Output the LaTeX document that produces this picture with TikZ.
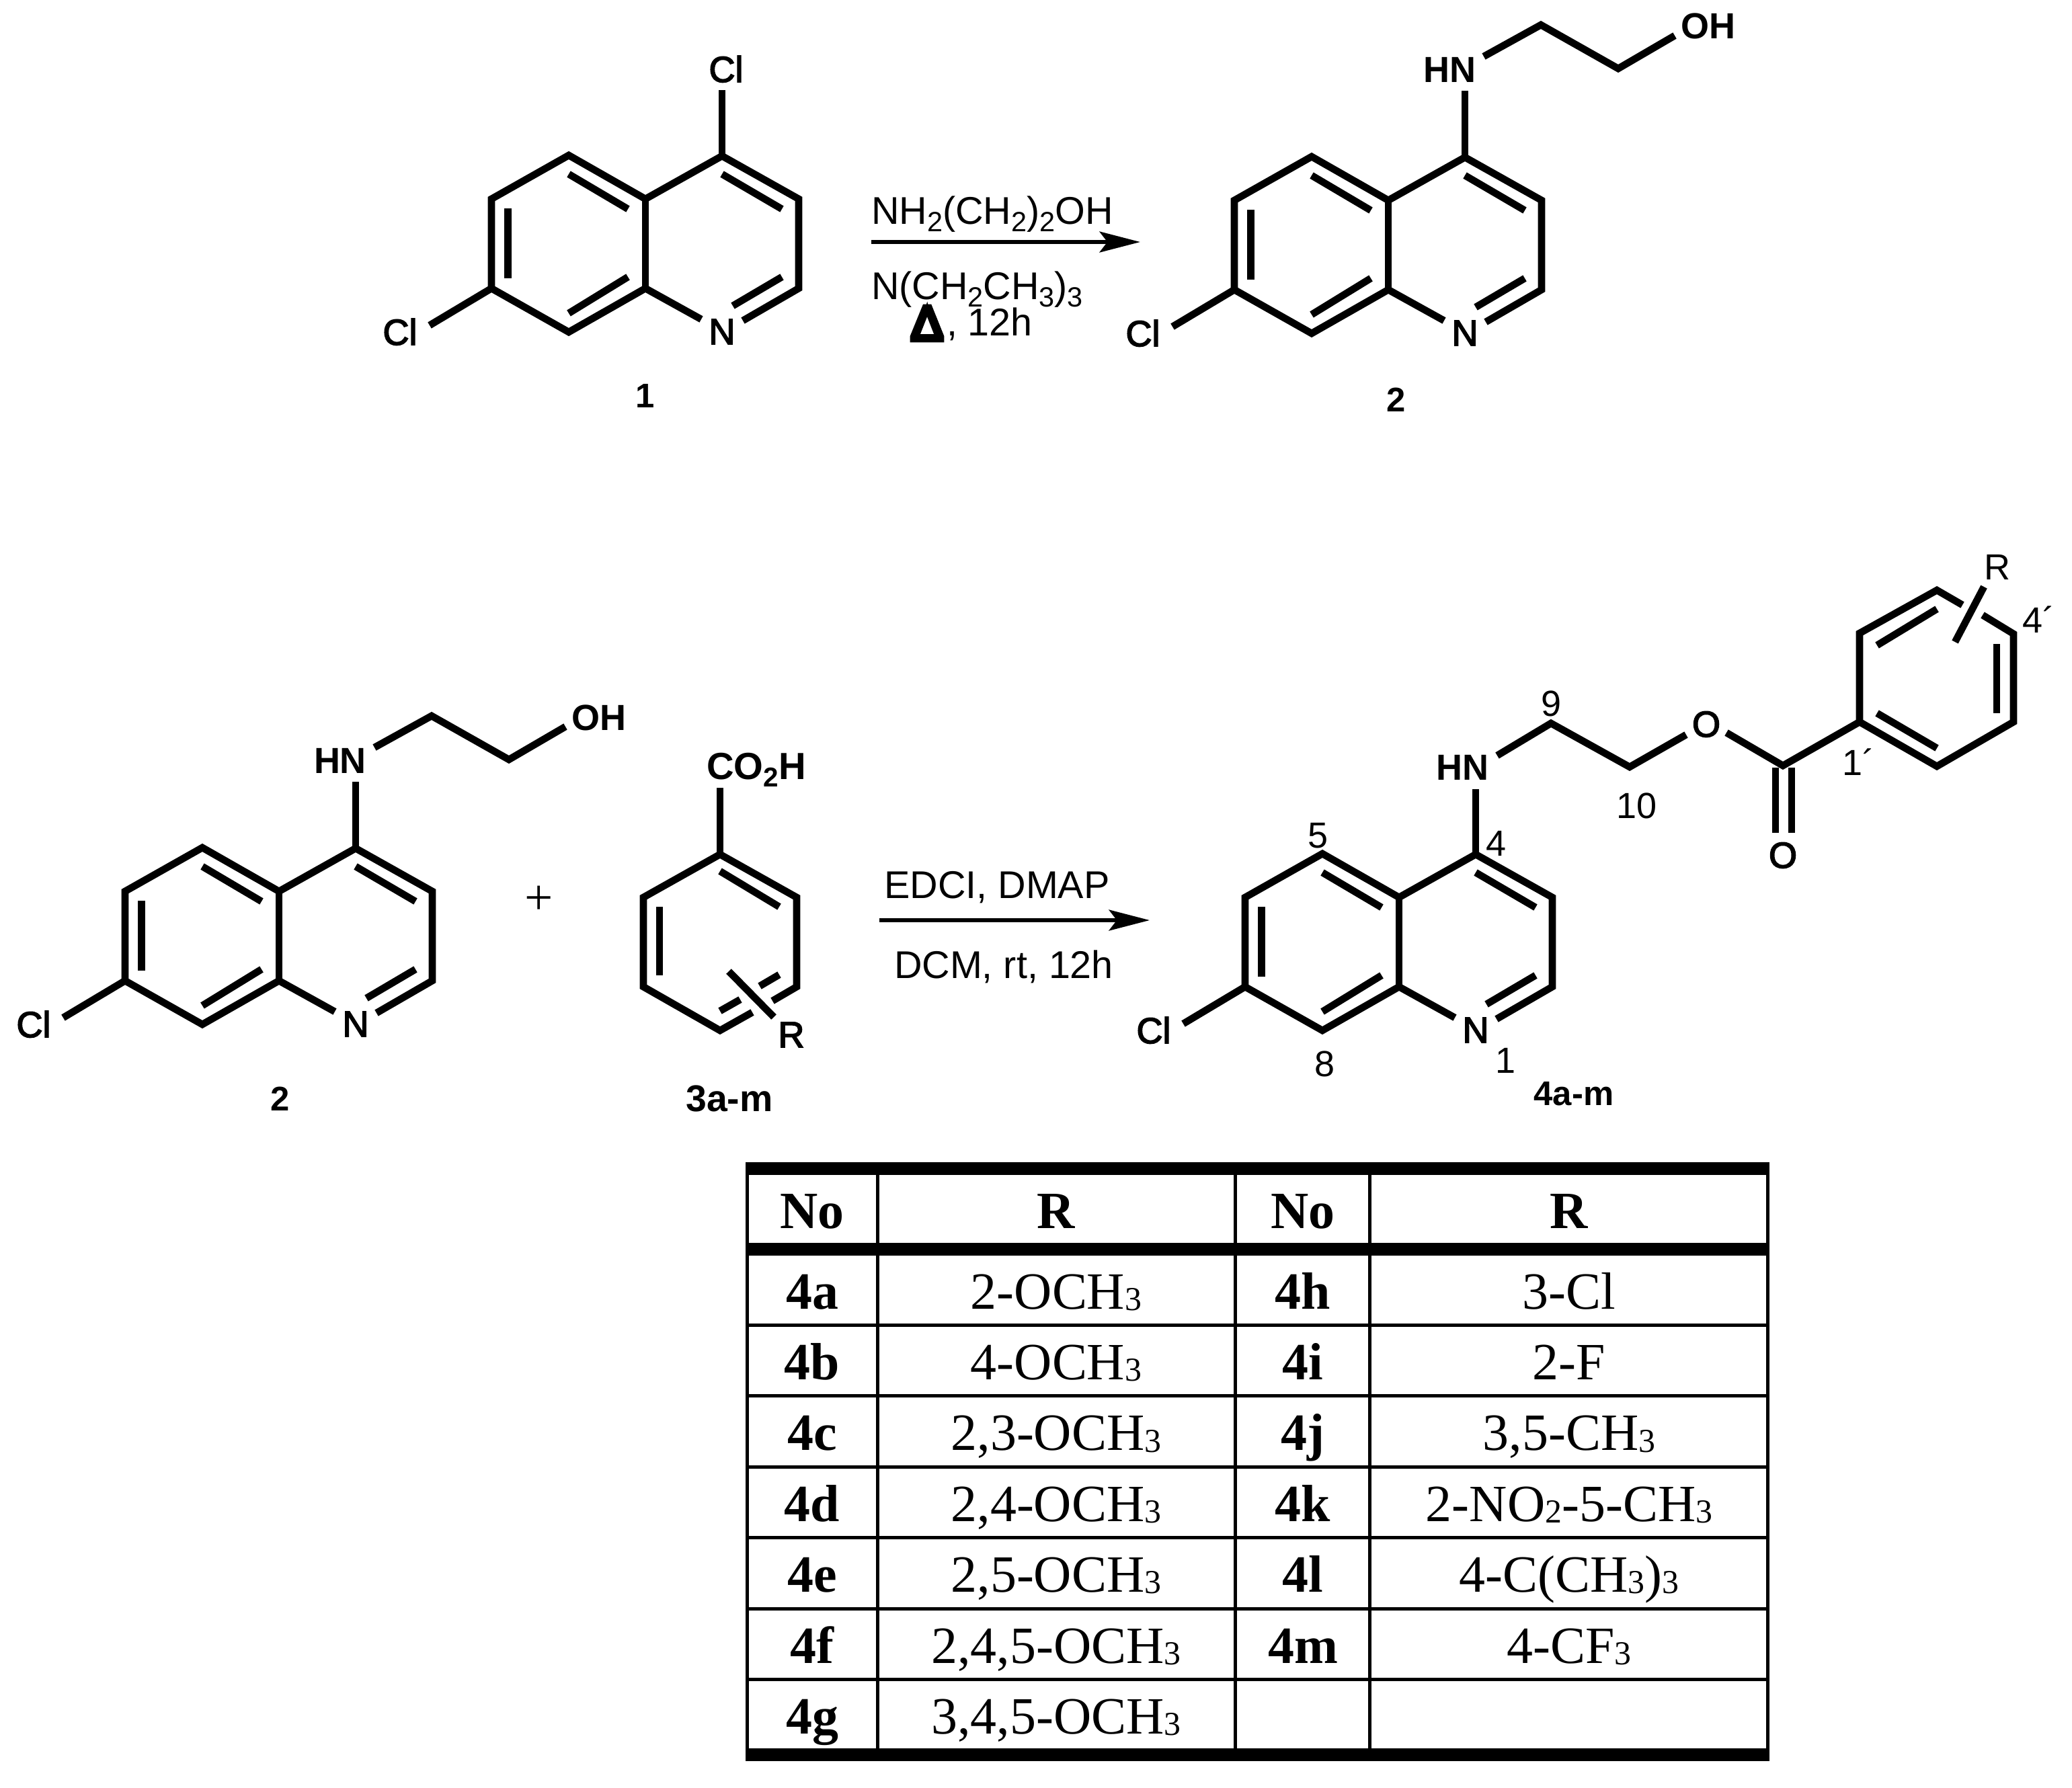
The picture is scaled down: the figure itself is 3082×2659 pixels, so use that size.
\documentclass[tikz,border=0pt]{standalone}
\usepackage{fontspec}
\setmainfont{Liberation Serif}
\newfontfamily\chemreg{Liberation Sans}
\newfontfamily\chemmid{Liberation Sans}[FakeBold=3]
\newfontfamily\chemdelta{Liberation Sans}[FakeBold=9]
\newfontfamily\chembld{Liberation Sans}[BoldFont={Liberation Sans Bold}]
\usetikzlibrary{arrows.meta}
\newcommand\sbs[1]{\raisebox{-0.2em}{\scalebox{0.72}{#1}}}
\newcommand\tsb[1]{\raisebox{-0.03em}{\scalebox{0.64}{#1}}}
\tikzset{
  bond/.style={line width=2.55pt,line cap=butt,line join=miter,miter limit=10,black},
  rxn/.style={line width=1.5pt,-{Stealth[length=14.5pt,width=7.4pt,inset=2.8pt]}},
  txt/.style={inner sep=0pt,outer sep=0pt,anchor=base},
  atomreg/.style={txt,font=\chemreg\fontsize{12.96pt}{15pt}\selectfont},
  atommid/.style={txt,font=\chemmid\fontsize{12.96pt}{15pt}\selectfont},
  atombld/.style={txt,font=\chembld\bfseries\fontsize{12.96pt}{15pt}\selectfont},
  reagent/.style={txt,font=\chemreg\fontsize{13.8pt}{15pt}\selectfont},
  cpd/.style={txt,font=\chembld\bfseries\fontsize{12.2pt}{15pt}\selectfont},
  tblhead/.style={txt,font=\bfseries\fontsize{18.7pt}{22pt}\selectfont},
  tblcell/.style={txt,font=\fontsize{18.7pt}{22pt}\selectfont},
  thickrule/.style={line width=4.56pt,line cap=butt},
  thinrule/.style={line width=1.2pt,line cap=butt},
}
\newcommand\quino[3]{%
\begin{scope}[shift={(#2,#3)}]
  \coordinate (#1c4) at (1074,232);
  \coordinate (#1c3) at (1188,296);
  \coordinate (#1c2) at (1188,429);
  \coordinate (#1c8a) at (960,429);
  \coordinate (#1c4a) at (960,296);
  \coordinate (#1c5) at (846,231);
  \coordinate (#1c6) at (731,296);
  \coordinate (#1c7) at (731,429);
  \coordinate (#1c8) at (846,494);
  \coordinate (#1na) at (1043,475);
  \coordinate (#1nb) at (1105,477);
  \coordinate (#1clb) at (639,484);
  \node[atommid] (#1n) at (1074,512) {N};
  \node[atommid] (#1cl) at (595,513) {Cl};
  \draw[bond] (#1na) -- (#1c8a) -- (#1c8) -- (#1c7) -- (#1c6) -- (#1c5) -- (#1c4a) -- (#1c4) -- (#1c3) -- (#1c2) -- (#1nb);
  \draw[bond] (#1c4a) -- (#1c8a);
  \draw[bond] (#1c7) -- (#1clb);
  \coordinate (#1i1) at (755.5,310); \coordinate (#1i2) at (755.5,414);
  \coordinate (#1i3) at (846,259); \coordinate (#1i4) at (934,311);
  \coordinate (#1i5) at (846,466); \coordinate (#1i6) at (934,412);
  \coordinate (#1i7) at (1074,259); \coordinate (#1i8) at (1163,311);
  \coordinate (#1i9) at (1090,455); \coordinate (#1i10) at (1163,412);
  \draw[bond] (#1i1) -- (#1i2);
  \draw[bond] (#1i3) -- (#1i4);
  \draw[bond] (#1i5) -- (#1i6);
  \draw[bond] (#1i7) -- (#1i8);
  \draw[bond] (#1i9) -- (#1i10);
\end{scope}}
\newcommand\amino[3]{%
\begin{scope}[shift={(#2,#3)}]
  \node[atombld] (#1hn) at (1051,120) {HN};
  \node[atombld] (#1oh) at (1436,56) {OH};
  \coordinate (#1t0) at (1074,133);
  \coordinate (#1t1) at (1102,82);
  \coordinate (#1t2) at (1187,35);
  \coordinate (#1t3) at (1302,100);
  \coordinate (#1t4) at (1386,51);
  \draw[bond] (#1c4) -- (#1t0);
  \draw[bond] (#1t1) -- (#1t2) -- (#1t3) -- (#1t4);
\end{scope}}
\newcommand\trow[6]{%
  \node[tblhead] (no#1) at (1208,#2) {#3};
  \node[tblcell] (ra#1) at (1571,#2) {#4};
  \node[tblhead] (nb#1) at (1938,#2) {#5};
  \node[tblcell] (rb#1) at (2334,#2) {#6};}
\begin{document}
\begin{tikzpicture}[x=0.24pt,y=-0.24pt]
\useasboundingbox (0,0) rectangle (3082,2659);

% --- compound 1
\quino{a}{0}{0}
\node[atommid] (acl4) at (1080,122) {Cl};
\coordinate (acl4b) at (1074,134);
\draw[bond] (ac4) -- (acl4b);
\node[cpd] (lab1) at (960,606) {1};

% --- reaction 1
\coordinate (r1s) at (1296,360);
\coordinate (r1e) at (1696,360);
\draw[rxn] (r1s) -- (r1e);
\node[reagent,anchor=base west] (r1a) at (1296,333) {NH\sbs{2}(CH\sbs{2})\sbs{2}OH};
\node[reagent,anchor=base west] (r1b) at (1296,445) {N(CH\sbs{2}CH\sbs{3})\sbs{3}};
\node[txt,font=\chemdelta\fontsize{17.5pt}{20pt}\selectfont] (r1d) at (1379,506) {Δ};
\node[reagent,anchor=base west] (r1c) at (1408,499) {, 12h};

% --- compound 2
\quino{b}{1105}{2}
\amino{b}{1105}{2}
\node[cpd] (lab2) at (2077,612) {2};

% --- second row: compound 2
\quino{c}{-545}{1030}
\amino{c}{-545}{1030}
\node[cpd] (lab2b) at (417,1652) {2};
\node[txt,font=\fontsize{18pt}{20pt}\selectfont,anchor=center] (plus) at (802,1339) {+};

% --- 3a-m
\coordinate (d1) at (1071,1271);
\coordinate (d2) at (1185,1335);
\coordinate (d3) at (1185,1468);
\coordinate (d4) at (1149,1489);
\coordinate (d5) at (1119,1506);
\coordinate (d6) at (1071,1533);
\coordinate (d7) at (957,1468);
\coordinate (d8) at (957,1335);
\node[atombld,font=\chembld\bfseries\fontsize{13.5pt}{15pt}\selectfont] (dco) at (1125,1159) {CO\sbs{2}H};
\coordinate (dt) at (1071,1172);
\draw[bond] (d1) -- (dt);
\draw[bond] (d4) -- (d3) -- (d2) -- (d1) -- (d8) -- (d7) -- (d6) -- (d5);
\coordinate (di1) at (981,1349); \coordinate (di2) at (981,1451);
\coordinate (di3) at (1071,1296); \coordinate (di4) at (1159,1349);
\coordinate (di5) at (1159,1450); \coordinate (di6) at (1130,1467);
\coordinate (di7) at (1101,1487); \coordinate (di8) at (1071,1504);
\draw[bond] (di1) -- (di2);
\draw[bond] (di3) -- (di4);
\draw[bond] (di5) -- (di6);
\draw[bond] (di7) -- (di8);
\coordinate (ds1) at (1084,1445); \coordinate (ds2) at (1151,1513);
\draw[bond] (ds1) -- (ds2);
\node[atommid] (dr) at (1177,1558) {R};
\node[cpd,font=\chembld\bfseries\fontsize{13.3pt}{15pt}\selectfont] (lab3) at (1085,1653) {3a-m};

% --- reaction 2
\coordinate (r2s) at (1308,1369);
\coordinate (r2e) at (1710,1369);
\draw[rxn] (r2s) -- (r2e);
\node[reagent] (r2a) at (1483,1336) {EDCI, DMAP};
\node[reagent] (r2b) at (1493,1455) {DCM, rt, 12h};

% --- 4a-m
\quino{e}{1121}{1039}
\node[atombld] (ehn) at (2175,1160) {HN};
\node[atommid] (eo) at (2538,1096) {O};
\node[atommid] (eo2) at (2652,1291) {O};
\coordinate (et0) at (2195,1174);
\coordinate (et1) at (2227,1124);
\coordinate (et2) at (2307,1076);
\coordinate (et3) at (2424,1141);
\coordinate (et4) at (2508,1093);
\coordinate (et5) at (2568,1090);
\coordinate (et6) at (2652,1139);
\coordinate (eb1) at (2766,1074);
\coordinate (eb2) at (2766,942);
\coordinate (eb3) at (2881,878);
\coordinate (eb3a) at (2919,900);
\coordinate (eb4a) at (2949,915);
\coordinate (eb4) at (2995,943);
\coordinate (eb5) at (2995,1074);
\coordinate (eb6) at (2881,1140);
\draw[bond] (ec4) -- (et0);
\draw[bond] (et1) -- (et2) -- (et3) -- (et4);
\draw[bond] (et5) -- (et6) -- (eb1);
\coordinate (ed1) at (2641,1142); \coordinate (ed2) at (2641,1239);
\coordinate (ed3) at (2665,1142); \coordinate (ed4) at (2665,1239);
\draw[bond] (ed1) -- (ed2);
\draw[bond] (ed3) -- (ed4);
\draw[bond] (eb3a) -- (eb3) -- (eb2) -- (eb1) -- (eb6) -- (eb5) -- (eb4) -- (eb4a);
\coordinate (ei1) at (2792,960); \coordinate (ei2) at (2881,906);
\coordinate (ei3) at (2970,958); \coordinate (ei4) at (2970,1061);
\coordinate (ei5) at (2792,1061); \coordinate (ei6) at (2881,1113);
\draw[bond] (ei1) -- (ei2);
\draw[bond] (ei3) -- (ei4);
\draw[bond] (ei5) -- (ei6);
\coordinate (es1) at (2951,873); \coordinate (es2) at (2908,955);
\draw[bond] (es1) -- (es2);
\node[atomreg] (er) at (2971,862) {R};
\node[atomreg] (n9) at (2307,1065) {9};
\node[atomreg] (n10) at (2434,1217) {10};
\node[atomreg] (n5) at (1960,1261) {5};
\node[atomreg] (n4) at (2225,1273) {4};
\node[atomreg] (n1) at (2239,1596) {1};
\node[atomreg] (n8) at (1970,1601) {8};
\node[atomreg] (n1p) at (2764,1153) {1´};
\node[atomreg] (n4p) at (3032,941) {4´};
\node[cpd] (lab4) at (2341,1644) {4a-m};

% --- table
\foreach \yy in {1971.5,2076.9,2182.3,2287.7,2393.1,2498.5}
  \draw[thinrule] (1111.5,\yy) -- (2629.5,\yy);
\foreach \xx in {1111.5,1305.5,1837.5,2037.5,2629.5}
  \draw[thinrule] (\xx,1729) -- (\xx,2620);
\draw[thickrule] (1109,1738.5) -- (2632,1738.5);
\draw[thickrule] (1109,1858.5) -- (2632,1858.5);
\draw[thickrule] (1109,2610.5) -- (2632,2610.5);
\node[tblhead] (h1) at (1208,1827) {No};
\node[tblhead] (h2) at (1571,1827) {R};
\node[tblhead] (h3) at (1938,1827) {No};
\node[tblhead] (h4) at (2334,1827) {R};
\trow{a}{1947}{4a}{2-OCH\tsb{3}}{4h}{3-Cl}
\trow{b}{2052.4}{4b}{4-OCH\tsb{3}}{4i}{2-F}
\trow{c}{2157.8}{4c}{2,3-OCH\tsb{3}}{4j}{3,5-CH\tsb{3}}
\trow{d}{2263.2}{4d}{2,4-OCH\tsb{3}}{4k}{2-NO\tsb{2}-5-CH\tsb{3}}
\trow{e}{2368.6}{4e}{2,5-OCH\tsb{3}}{4l}{4-C(CH\tsb{3})\tsb{3}}
\trow{f}{2474}{4f}{2,4,5-OCH\tsb{3}}{4m}{4-CF\tsb{3}}
\node[tblhead] (nog) at (1208,2579.4) {4g};
\node[tblcell] (rag) at (1571,2579.4) {3,4,5-OCH\tsb{3}};
\end{tikzpicture}
\end{document}
